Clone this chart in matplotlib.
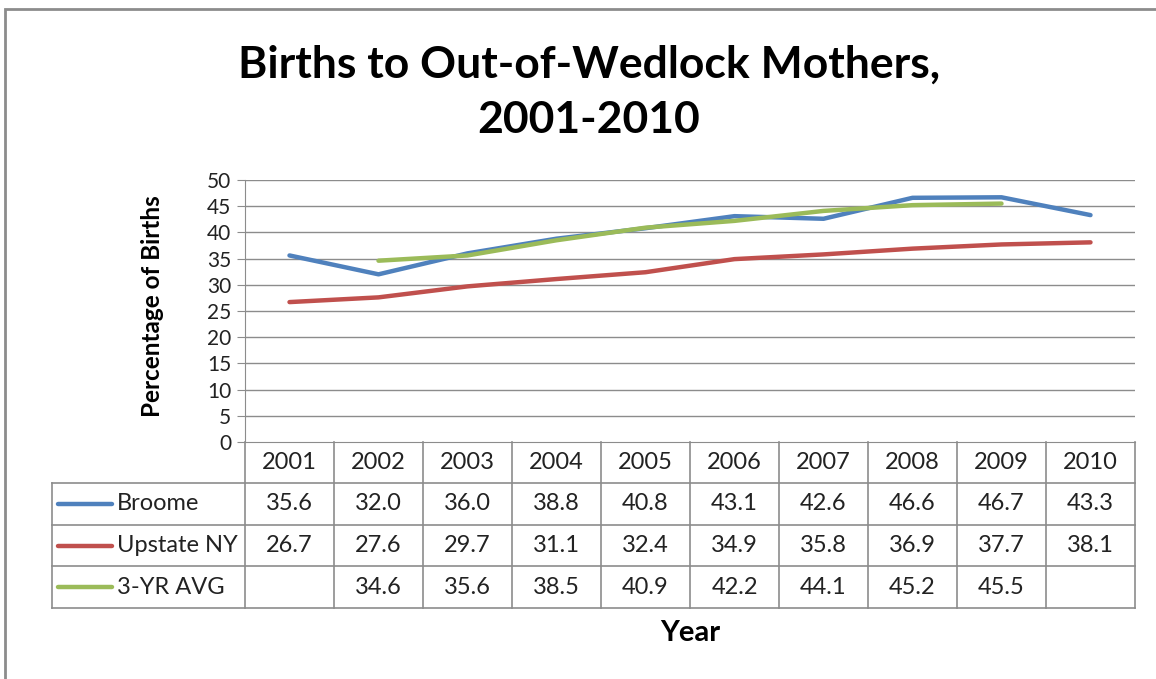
import matplotlib.pyplot as plt
import matplotlib.transforms as mtransforms
from matplotlib.lines import Line2D
from matplotlib.patches import Rectangle

years = ["2001", "2002", "2003", "2004", "2005", "2006", "2007", "2008", "2009", "2010"]
broome = [35.6, 32.0, 36.0, 38.8, 40.8, 43.1, 42.6, 46.6, 46.7, 43.3]
upstate = [26.7, 27.6, 29.7, 31.1, 32.4, 34.9, 35.8, 36.9, 37.7, 38.1]
avg3 = [None, 34.6, 35.6, 38.5, 40.9, 42.2, 44.1, 45.2, 45.5, None]
series_names = ["Broome", "Upstate NY", "3-YR AVG"]
series_colors = ["#4F81BD", "#C0504D", "#9BBB59"]
yticks = list(range(0, 51, 5))

plt.rcParams['font.family'] = ['Lato', 'DejaVu Sans']

W, H = 1156, 679
fig = plt.figure(figsize=(W / 100, H / 100), dpi=100)

# pixel layout
left, right, top, bottom = 245, 1135, 180, 442
ax = fig.add_axes([left / W, 1 - bottom / H, (right - left) / W, (bottom - top) / H])

def fy(py):
    # pixel y -> axes fraction
    return (bottom - py) / (bottom - top)

def fx(px):
    return (px - left) / (right - left)

grid_c = "#8C8C8C"
txt_c = "#222222"
xs = list(range(len(years)))
all_series = [broome, upstate, avg3]
for vals, col in zip(all_series, series_colors):
    px = [x for x, v in zip(xs, vals) if v is not None]
    py = [v for v in vals if v is not None]
    ax.plot(px, py, color=col, lw=3.2, solid_capstyle='round', zorder=3)

ax.set_xlim(-0.5, len(years) - 0.5)
ax.set_ylim(0, 50)
ax.set_yticks(yticks)
ax.set_yticklabels([str(t) for t in yticks], fontsize=15, color=txt_c)
ax.tick_params(axis='y', length=6, color=grid_c, pad=4)
ax.set_xticks([])
for y in yticks[1:]:
    ax.axhline(y, color=grid_c, lw=1, zorder=1)
for s in ["top", "right"]:
    ax.spines[s].set_visible(False)
ax.spines["left"].set_color(grid_c)
ax.spines["bottom"].set_color(grid_c)

# data table below the axes
tr = mtransforms.blended_transform_factory(ax.transData, ax.transAxes)
row_px = [442, 483, 525, 566, 608]
rows_y = [fy(p) for p in row_px]
tbl_kw = dict(color=grid_c, lw=1.2, clip_on=False, zorder=2)
for b in [i - 0.5 for i in range(len(years) + 1)]:
    ax.add_line(Line2D([b, b], [rows_y[0], rows_y[-1]], transform=tr, **tbl_kw))
for ry in rows_y[1:]:
    ax.add_line(Line2D([fx(52), 1], [ry, ry], transform=ax.transAxes, **tbl_kw))
ax.add_line(Line2D([fx(52), fx(52)], [rows_y[1], rows_y[-1]], transform=ax.transAxes, **tbl_kw))

for x, yr in zip(xs, years):
    ax.text(x, (rows_y[0] + rows_y[1]) / 2, yr, transform=tr, ha='center', va='center',
            fontsize=17, color=txt_c)
for r, (vals, name, col) in enumerate(zip(all_series, series_names, series_colors)):
    yc = (rows_y[r + 1] + rows_y[r + 2]) / 2
    for x, v in zip(xs, vals):
        if v is not None:
            ax.text(x, yc, f"{v:.1f}", transform=tr, ha='center', va='center',
                    fontsize=17, color=txt_c)
    ax.add_line(Line2D([fx(58), fx(112)], [yc, yc], transform=ax.transAxes,
                       color=col, lw=3.2, solid_capstyle='round', clip_on=False))
    ax.text(fx(117), yc, name, transform=ax.transAxes, ha='left', va='center',
            fontsize=17, color=txt_c)

# titles and labels
fig.text(589 / W, 1 - 65 / H, "Births to Out-of-Wedlock Mothers,", ha='center', va='center',
         fontsize=32, fontweight='bold')
fig.text(589 / W, 1 - 120 / H, "2001-2010", ha='center', va='center',
         fontsize=32, fontweight='bold')
fig.text(152 / W, 1 - 306 / H, "Percentage of Births", rotation=90, ha='center', va='center',
         fontsize=17.5, fontweight='bold')
fig.text(690 / W, 1 - 633 / H, "Year", ha='center', va='center', fontsize=21, fontweight='bold')

# outer chart border
fig.patches.append(Rectangle((5 / W, -0.1), 1.2, 1 - 9 / H + 0.1, transform=fig.transFigure,
                             fill=False, edgecolor="#8C8C8C", lw=2))

fig.savefig("out.png", dpi=100)
